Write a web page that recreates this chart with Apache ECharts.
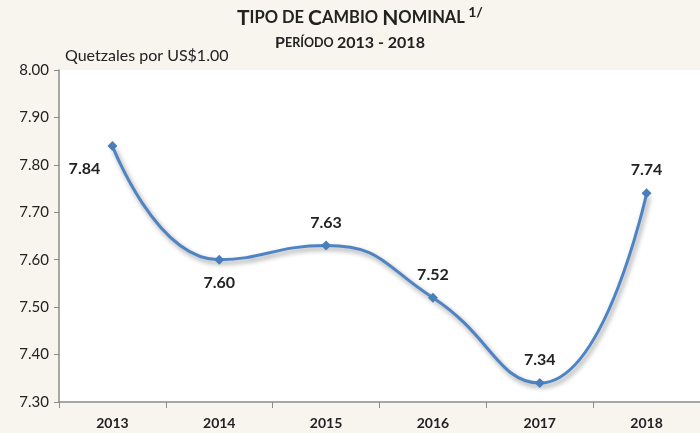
<!DOCTYPE html>
<html>
<head>
<meta charset="utf-8">
<script src="https://cdn.jsdelivr.net/npm/echarts@6/dist/echarts.min.js"></script>
<style>
  html, body { margin: 0; padding: 0; background: #f8f5ef; }
  #main { width: 700px; height: 433px; }
</style>
</head>
<body>
<div id="main"></div>
<script>
// datos
const years = ["2013", "2014", "2015", "2016", "2017", "2018"];
const rates = [7.84, 7.60, 7.63, 7.52, 7.34, 7.74];
const labelPos = ["bottom", "bottom", "top", "top", "top", "top"];
const yTicks = { min: 7.3, max: 8.0, step: 0.1 };

const FONT = "Lato, 'Open Sans', sans-serif";
const myChart = echarts.init(document.getElementById("main"));

const option = {
  backgroundColor: "#f8f5ef",
  textStyle: { fontFamily: FONT },
  graphic: [
    {
      type: "text",
      left: 237,
      top: 5,
      style: {
        text: "{b|T}{s|IPO DE }{b|C}{s|AMBIO }{b|N}{s|OMINAL} {sup|1/}",
        rich: {
          b: { fontSize: 21, fontWeight: "bold", fill: "#222", fontFamily: FONT },
          s: { fontSize: 16.5, fontWeight: "bold", fill: "#222", fontFamily: FONT },
          sup: { fontSize: 14, fontWeight: "bold", fill: "#222", fontFamily: FONT, padding: [0, 0, 12, 0] }
        }
      }
    },
    {
      type: "text",
      left: "center",
      top: 35,
      style: {
        text: "{b|P}{s|ERÍODO} {b|2013 - 2018}",
        rich: {
          b: { fontSize: 16, fontWeight: "bold", fill: "#222", fontFamily: FONT },
          s: { fontSize: 12.5, fontWeight: "bold", fill: "#222", fontFamily: FONT }
        }
      }
    },
    {
      type: "text",
      left: 65,
      top: 48,
      style: { text: "Quetzales por US$1.00", fontSize: 16, fill: "#222", fontFamily: FONT }
    }
  ],
  grid: {
    left: 59,
    top: 70,
    width: 646,
    height: 332,
    show: true,
    backgroundColor: "#ffffff",
    borderWidth: 0
  },
  xAxis: {
    type: "category",
    data: years,
    boundaryGap: true,
    axisLine: { lineStyle: { color: "#8c8c8c", width: 1.5 } },
    axisTick: { show: true, alignWithLabel: false, length: 6, lineStyle: { color: "#8c8c8c" } },
    axisLabel: { color: "#222", fontSize: 14, fontWeight: "bold", margin: 14 },
    splitLine: { show: false }
  },
  yAxis: {
    type: "value",
    min: yTicks.min,
    max: yTicks.max,
    interval: yTicks.step,
    axisLine: { show: true, lineStyle: { color: "#8c8c8c", width: 1.5 } },
    axisTick: { show: true, length: 5, lineStyle: { color: "#8c8c8c" } },
    axisLabel: {
      color: "#222",
      fontSize: 15,
      margin: 10,
      formatter: (v) => v.toFixed(2)
    },
    splitLine: { show: false }
  },
  series: [
    {
      type: "line",
      data: rates.map((v, i) => ({
        value: v,
        label: {
          position: labelPos[i],
          offset: i === 0 ? [-28, 0] : [0, 0]
        }
      })),
      smooth: 0.5,
      symbol: "diamond",
      symbolSize: 10,
      itemStyle: { color: "#4a7ebb" },
      lineStyle: {
        color: "#4f84c4",
        width: 3,
        shadowColor: "rgba(0,0,0,0.4)",
        shadowBlur: 5,
        shadowOffsetX: 2,
        shadowOffsetY: 3
      },
      label: {
        show: true,
        color: "#222",
        fontSize: 16,
        fontWeight: "bold",
        distance: 10,
        formatter: (p) => p.value.toFixed(2)
      }
    }
  ]
};

myChart.setOption(option);
</script>
</body>
</html>
